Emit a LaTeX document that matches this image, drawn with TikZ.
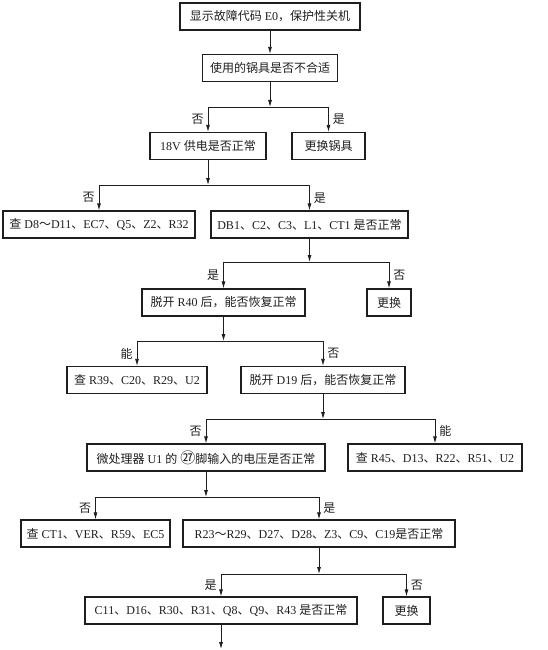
\documentclass[tikz,border=0pt]{standalone}
\usepackage{fontspec}
\setmainfont{Liberation Serif}
\newfontfamily\cjk{Noto Sans CJK SC}
\usetikzlibrary{arrows.meta, positioning}

% switch to the CJK font for Chinese characters and full-width marks
\XeTeXinterchartokenstate=1
\newXeTeXintercharclass\cjkclass
\newcount\cjkcode
\cjkcode="3000
\loop\XeTeXcharclass\cjkcode=\cjkclass \ifnum\cjkcode<"33FF \advance\cjkcode by 1 \repeat
\cjkcode="4E00
\loop\XeTeXcharclass\cjkcode=\cjkclass \ifnum\cjkcode<"9FFF \advance\cjkcode by 1 \repeat
\cjkcode="FF00
\loop\XeTeXcharclass\cjkcode=\cjkclass \ifnum\cjkcode<"FFEF \advance\cjkcode by 1 \repeat
\XeTeXinterchartoks 0 \cjkclass = {\begingroup\cjk}
\XeTeXinterchartoks 4095 \cjkclass = {\begingroup\cjk}
\XeTeXinterchartoks \cjkclass 0 = {\endgroup}
\XeTeXinterchartoks \cjkclass 4095 = {\endgroup}

\definecolor{ink}{HTML}{1E1E1E}

\begin{document}
\begin{tikzpicture}[x=1pt, y=-1pt, font=\fontsize{12}{14}\selectfont, ink,
    box/.style={draw=ink, line width=1.2pt, minimum height=27pt, inner xsep=5pt, inner ysep=0pt},
    link/.style={draw=ink, line width=0.8pt},
    flow/.style={link, -{Latex[length=7pt, width=4pt]}},
    tag/.style={inner xsep=4pt, inner ysep=0pt}]
\useasboundingbox (0,0) rectangle (547,650);

\node[box, minimum width=180pt] (fault) at (270,16.5) {显示故障代码 E0，保护性关机};
\node[box, minimum width=135pt] (pot) at (270,68) {使用的锅具是否不合适};
\node[box, minimum width=116pt] (supply) at (208,146) {18V 供电是否正常};
\node[box, minimum width=73pt] (newpot) at (328.5,146) {更换锅具};
\node[box, minimum width=192pt] (chkD8) at (99,224.5) {查 D8～D11、EC7、Q5、Z2、R32};
\node[box, minimum width=197pt] (bridge) at (309.5,224.5) {DB1、C2、C3、L1、CT1 是否正常};
\node[box, minimum width=163pt] (cutR40) at (223.5,302.5) {脱开 R40 后，能否恢复正常};
\node[box, minimum width=44pt] (swap1) at (389,302.5) {更换};
\node[box, minimum width=140pt] (chkR39) at (137,380) {查 R39、C20、R29、U2};
\node[box, minimum width=164pt] (cutD19) at (323,380) {脱开 D19 后，能否恢复正常};
\node[box, minimum width=238pt] (pin27) at (206,457.5) {微处理器 U1 的 {\fontsize{15}{15}\selectfont ㉗}脚输入的电压是否正常};
\node[box, minimum width=174pt] (chkR45) at (435,457.5) {查 R45、D13、R22、R51、U2};
\node[box, minimum width=149pt] (chkCT1) at (95.5,533.5) {查 CT1、VER、R59、EC5};
\node[box, minimum width=272pt] (chkR23) at (319,533.5) {R23～R29、D27、D28、Z3、C9、C19是否正常};
\node[box, minimum width=272pt] (chkC11) at (221,610.5) {C11、D16、R30、R31、Q8、Q9、R43 是否正常};
\node[box, minimum width=47pt] (swap2) at (406.5,610.5) {更换};

\coordinate (j1) at (270,107);
\coordinate (j2) at (208,185);
\coordinate (j3) at (309.5,262);
\coordinate (j4) at (223.5,341);
\coordinate (j5) at (323,419);
\coordinate (j6) at (206,497);
\coordinate (j7) at (319,574);
\coordinate (tail) at (221,649);

\draw[flow] (fault) -- (pot);

\draw[flow] (pot) -- (j1);
\draw[link] (supply |- j1) -- (newpot |- j1);
\draw[flow] (supply |- j1) -- node[tag, left] (t1a) {否} (supply);
\draw[flow] (newpot |- j1) -- node[tag, right] (t1b) {是} (newpot);

\draw[flow] (supply) -- (j2);
\draw[link] (chkD8 |- j2) -- (bridge |- j2);
\draw[flow] (chkD8 |- j2) -- node[tag, left] (t2a) {否} (chkD8);
\draw[flow] (bridge |- j2) -- node[tag, right] (t2b) {是} (bridge);

\draw[flow] (bridge) -- (j3);
\draw[link] (cutR40 |- j3) -- (swap1 |- j3);
\draw[flow] (cutR40 |- j3) -- node[tag, left] (t3a) {是} (cutR40);
\draw[flow] (swap1 |- j3) -- node[tag, right] (t3b) {否} (swap1);

\draw[flow] (cutR40) -- (j4);
\draw[link] (chkR39 |- j4) -- (cutD19 |- j4);
\draw[flow] (chkR39 |- j4) -- node[tag, left] (t4a) {能} (chkR39);
\draw[flow] (cutD19 |- j4) -- node[tag, right] (t4b) {否} (cutD19);

\draw[flow] (cutD19) -- (j5);
\draw[link] (pin27 |- j5) -- (chkR45 |- j5);
\draw[flow] (pin27 |- j5) -- node[tag, left] (t5a) {否} (pin27);
\draw[flow] (chkR45 |- j5) -- node[tag, right] (t5b) {能} (chkR45);

\draw[flow] (pin27) -- (j6);
\draw[link] (chkCT1 |- j6) -- (chkR23 |- j6);
\draw[flow] (chkCT1 |- j6) -- node[tag, left] (t6a) {否} (chkCT1);
\draw[flow] (chkR23 |- j6) -- node[tag, right] (t6b) {是} (chkR23);

\draw[flow] (chkR23) -- (j7);
\draw[link] (chkC11 |- j7) -- (swap2 |- j7);
\draw[flow] (chkC11 |- j7) -- node[tag, left] (t7a) {是} (chkC11);
\draw[flow] (swap2 |- j7) -- node[tag, right] (t7b) {否} (swap2);

\draw[flow] (chkC11) -- (tail);
\end{tikzpicture}
\end{document}
